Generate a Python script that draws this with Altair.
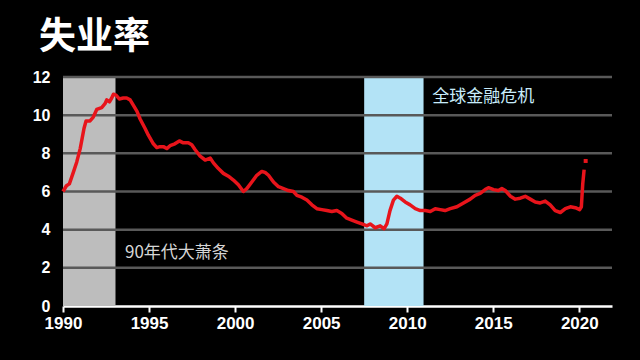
import altair as alt
import pandas as pd

# Unemployment rate (%)
years = [1990.0, 1990.2, 1990.37, 1990.6, 1990.8, 1991.0, 1991.22, 1991.34, 1991.57, 1991.76,
         1991.96, 1992.25, 1992.44, 1992.54, 1992.7, 1992.83, 1992.93, 1993.08, 1993.27, 1993.5,
         1993.7, 1993.9, 1994.1, 1994.3, 1994.48, 1994.77, 1994.96, 1995.25, 1995.45, 1995.64,
         1995.83, 1996.03, 1996.22, 1996.5, 1996.76, 1996.99, 1997.28, 1997.48, 1997.67, 1997.97,
         1998.26, 1998.55, 1998.74, 1999.03, 1999.32, 1999.61, 1999.9, 2000.19, 2000.48, 2000.68,
         2000.97, 2001.26, 2001.55, 2001.74, 2001.94, 2002.23, 2002.52, 2002.81, 2003.1, 2003.39,
         2003.59, 2003.88, 2004.17, 2004.46, 2004.75, 2005.04, 2005.33, 2005.62, 2005.91, 2006.2,
         2006.49, 2006.78, 2007.08, 2007.37, 2007.66, 2007.85, 2008.14, 2008.43, 2008.66, 2008.82,
         2009.0, 2009.2, 2009.4, 2009.6, 2009.88, 2010.17, 2010.47, 2010.76, 2011.05, 2011.34,
         2011.63, 2011.92, 2012.2, 2012.5, 2012.89, 2013.27, 2013.66, 2013.95, 2014.24, 2014.53,
         2014.72, 2015.02, 2015.3, 2015.5, 2015.7, 2016.0, 2016.28, 2016.57, 2016.86, 2017.15,
         2017.44, 2017.73, 2018.02, 2018.31, 2018.6, 2018.9, 2019.19, 2019.48, 2019.77, 2020.02,
         2020.12, 2020.2, 2020.28]
rates = [6.0, 6.3, 6.4, 7.0, 7.55, 8.25, 9.3, 9.7, 9.7, 9.9,
         10.3, 10.4, 10.6, 10.8, 10.7, 10.9, 11.1, 11.05, 10.85, 10.9,
         10.9, 10.8, 10.5, 10.2, 9.8, 9.3, 8.95, 8.5, 8.3, 8.35,
         8.35, 8.25, 8.4, 8.5, 8.65, 8.55, 8.55, 8.45, 8.2, 7.85,
         7.65, 7.75, 7.5, 7.2, 6.95, 6.8, 6.6, 6.35, 6.0, 6.15,
         6.5, 6.85, 7.05, 7.0, 6.85, 6.5, 6.25, 6.15, 6.05, 6.0,
         5.8, 5.7, 5.55, 5.3, 5.1, 5.05, 5.0, 4.95, 5.0, 4.85,
         4.6, 4.5, 4.4, 4.3, 4.2, 4.3, 4.1, 4.2, 4.05, 4.3,
         5.0, 5.55, 5.75, 5.65, 5.45, 5.3, 5.1, 5.0, 5.0, 4.95,
         5.1, 5.05, 5.0, 5.1, 5.2, 5.4, 5.6, 5.8, 5.9, 6.1,
         6.2, 6.1, 6.05, 6.15, 6.05, 5.75, 5.6, 5.65, 5.75, 5.6,
         5.45, 5.4, 5.5, 5.3, 5.0, 4.9, 5.1, 5.2, 5.15, 5.05,
         5.2, 6.4, 7.15]

# Latest reading shown as a separate dot
last_year = [2020.37]
last_rate = [7.6]

# Shaded periods
period_start = [1990.0, 2007.5]
period_end = [1993.05, 2010.95]
period_color = ["#bdbdbd", "#b3e3f6"]

# Annotations
note_text = ["90年代大萧条", "全球金融危机"]
note_year = [1993.6, 2011.45]
note_rate = [2.8, 10.95]
note_color = ["#d6d6d6", "#c8ecfb"]

grid_values = [2, 4, 6, 8, 10, 12]
x_ticks = [1990, 1995, 2000, 2005, 2010, 2015, 2020]
y_ticks = [0, 2, 4, 6, 8, 10, 12]

df = pd.DataFrame({"year": years, "rate": rates})
df_last = pd.DataFrame({"year": last_year, "rate": last_rate})
df_periods = pd.DataFrame({"start": period_start, "end": period_end, "color": period_color})
df_notes = pd.DataFrame({"text": note_text, "year": note_year, "rate": note_rate, "color": note_color})
df_grid = pd.DataFrame({"v": grid_values})

x_scale = alt.Scale(domain=[1990, 2021.9], nice=False, zero=False)
y_scale = alt.Scale(domain=[0, 12], nice=False)

x_axis = alt.Axis(values=x_ticks, format="d", title=None, grid=False,
                  domainColor="white", domainWidth=2.5, tickColor="white", tickWidth=2,
                  tickSize=6, labelColor="white", labelFontSize=17, labelFontWeight="bold",
                  labelFont="Liberation Sans", labelPadding=3, labelFlush=False,
                  labelOverlap=False)
y_axis = alt.Axis(values=y_ticks, format="d", title=None, grid=False, domain=False, ticks=False,
                  labelColor="white", labelFontSize=16, labelFontWeight="bold",
                  labelFont="Liberation Sans", labelPadding=13, labelFlush=False,
                  labelOverlap=False)

rects = alt.Chart(df_periods).mark_rect().encode(
    x=alt.X("start:Q", scale=x_scale, axis=x_axis),
    x2="end:Q",
    y=alt.YDatum(0, scale=y_scale, axis=y_axis),
    y2=alt.datum(12),
    color=alt.Color("color:N", scale=None),
)

grid = alt.Chart(df_grid).mark_rule(color="#595959", strokeWidth=2.5).encode(
    y=alt.Y("v:Q", scale=y_scale, axis=y_axis)
)

line = alt.Chart(df).mark_line(color="#e8141b", strokeWidth=3.5, strokeJoin="round").encode(
    x=alt.X("year:Q", scale=x_scale, axis=x_axis),
    y=alt.Y("rate:Q", scale=y_scale, axis=y_axis),
)

dot = alt.Chart(df_last).mark_square(color="#e8141b", size=16, opacity=1).encode(
    x=alt.X("year:Q", scale=x_scale, axis=x_axis),
    y=alt.Y("rate:Q", scale=y_scale, axis=y_axis),
)

notes = alt.Chart(df_notes).mark_text(align="left", baseline="middle", fontSize=17,
                                       font="Noto Sans CJK SC").encode(
    x=alt.X("year:Q", scale=x_scale, axis=x_axis),
    y=alt.Y("rate:Q", scale=y_scale, axis=y_axis),
    text="text:N",
    color=alt.Color("color:N", scale=None),
)

chart = alt.layer(rects, grid, line, dot, notes).properties(
    width=549,
    height=229,
    autosize=alt.AutoSizeParams(type="none"),
    padding={"left": 63, "top": 77, "right": 28, "bottom": 54},
    background="black",
    title=alt.Title("失业率", anchor="start", frame="group", fontSize=37,
                    font="Noto Sans CJK SC", fontWeight="bold", color="white",
                    dx=-24, offset=12),
).configure_view(stroke=None).configure_axisY(labelOverlap=False)

chart.save("out.html", embed_options={"renderer": "svg", "actions": False})
